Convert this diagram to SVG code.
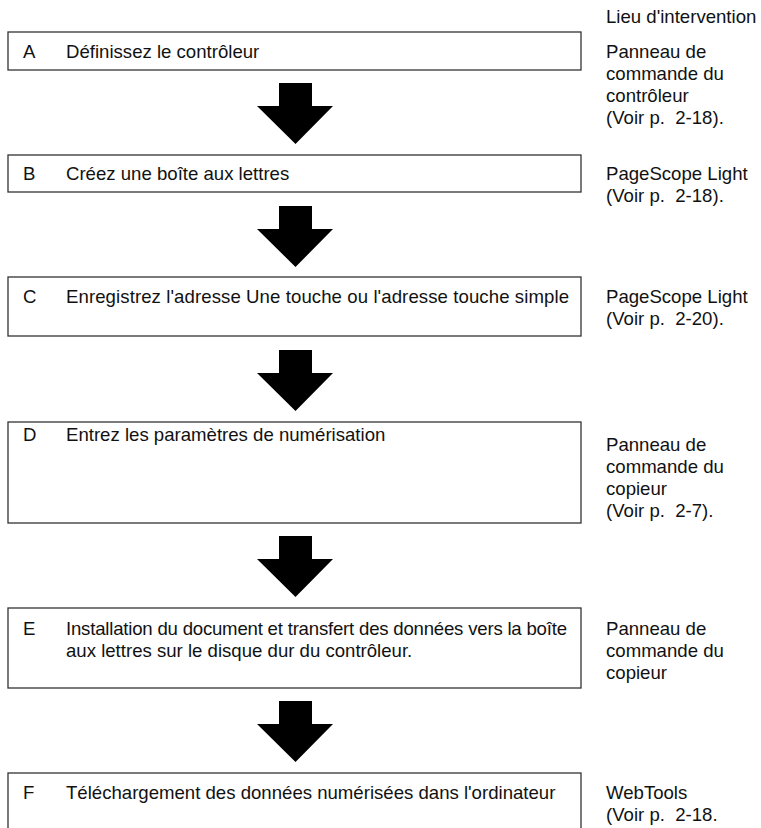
<svg xmlns="http://www.w3.org/2000/svg" width="761" height="828" viewBox="0 0 761 828">
<style>
text{font-family:"Liberation Sans",Arial,Helvetica,sans-serif;font-size:18.6px;fill:#111;white-space:pre}
.box{fill:#fff;stroke:#333;stroke-width:1.3}
.arrow{fill:#000}
</style>
<defs>
<polygon id="arr" points="279,0 312,0 312,23 333,23 295.5,61 257,23 279,23"/>
</defs>
<rect width="761" height="828" fill="#fff"/>
<text x="606" y="23">Lieu d'intervention</text>
<g id="connectors">
<use href="#arr" class="arrow" y="83"/>
<use href="#arr" class="arrow" y="206"/>
<use href="#arr" class="arrow" y="350"/>
<use href="#arr" class="arrow" y="536"/>
<use href="#arr" class="arrow" y="701"/>
</g>
<g id="nodeA">
<rect class="box" x="8" y="32" width="573" height="38"/>
<text x="23" y="58">A</text>
<text x="66" y="58">Définissez le contrôleur</text>
<text x="606" y="58">Panneau de</text>
<text x="606" y="80">commande du</text>
<text x="606" y="102">contrôleur</text>
<text x="606" y="124" xml:space="preserve">(Voir p.  2-18).</text>
</g>
<g id="nodeB">
<rect class="box" x="8" y="155" width="573" height="37"/>
<text x="23" y="180">B</text>
<text x="66" y="180">Créez une boîte aux lettres</text>
<text x="606" y="180">PageScope Light</text>
<text x="606" y="202" xml:space="preserve">(Voir p.  2-18).</text>
</g>
<g id="nodeC">
<rect class="box" x="8" y="277" width="573" height="59"/>
<text x="23" y="303">C</text>
<text x="66" y="303" textLength="503" lengthAdjust="spacing">Enregistrez l'adresse Une touche ou l'adresse touche simple</text>
<text x="606" y="303">PageScope Light</text>
<text x="606" y="325" xml:space="preserve">(Voir p.  2-20).</text>
</g>
<g id="nodeD">
<rect class="box" x="8" y="422" width="573" height="101"/>
<text x="23" y="441">D</text>
<text x="66" y="441">Entrez les paramètres de numérisation</text>
<text x="606" y="451">Panneau de</text>
<text x="606" y="473">commande du</text>
<text x="606" y="495">copieur</text>
<text x="606" y="517" xml:space="preserve">(Voir p.  2-7).</text>
</g>
<g id="nodeE">
<rect class="box" x="8" y="608" width="573" height="80"/>
<text x="23" y="635">E</text>
<text x="66" y="635" textLength="501" lengthAdjust="spacing">Installation du document et transfert des données vers la boîte</text>
<text x="66" y="657">aux lettres sur le disque dur du contrôleur.</text>
<text x="606" y="635">Panneau de</text>
<text x="606" y="657">commande du</text>
<text x="606" y="679">copieur</text>
</g>
<g id="nodeF">
<rect class="box" x="8" y="773" width="573" height="80"/>
<text x="23" y="799">F</text>
<text x="66" y="799">Téléchargement des données numérisées dans l'ordinateur</text>
<text x="606" y="799">WebTools</text>
<text x="606" y="821" xml:space="preserve">(Voir p.  2-18.</text>
</g>
</svg>
